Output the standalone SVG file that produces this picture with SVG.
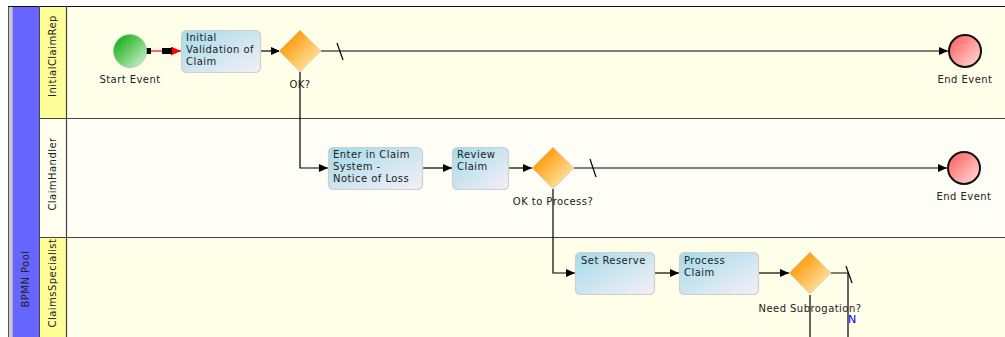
<svg xmlns="http://www.w3.org/2000/svg" width="1005" height="337" viewBox="0 0 1005 337">
<defs>
<linearGradient id="gTask" x1="0" y1="0" x2="1" y2="1"><stop offset="0" stop-color="#a3dbe9"/><stop offset="1" stop-color="#f5eff7"/></linearGradient>
<linearGradient id="gGate" x1="0" y1="0" x2="1" y2="1"><stop offset="0.2" stop-color="#ff9a08"/><stop offset="1" stop-color="#fff6cc"/></linearGradient>
<linearGradient id="gStart" x1="0" y1="0" x2="1" y2="1"><stop offset="0.2" stop-color="#2cb52c"/><stop offset="1" stop-color="#d8f6d8"/></linearGradient>
<linearGradient id="gEnd" x1="0" y1="0" x2="1" y2="1"><stop offset="0.15" stop-color="#ff6a6a"/><stop offset="1" stop-color="#ffe2e2"/></linearGradient>
<marker id="arr" markerWidth="9" markerHeight="8" refX="9" refY="4" orient="auto" markerUnits="userSpaceOnUse"><path d="M0,0 L9,4 L0,8 z" fill="#000"/></marker>
<marker id="arrRed" markerWidth="10" markerHeight="9" refX="10" refY="4.5" orient="auto" markerUnits="userSpaceOnUse"><path d="M0,0 L10,4.5 L0,9 z" fill="#ff0000"/></marker>
</defs>
<style>
text{font-family:"DejaVu Sans","Liberation Sans",sans-serif;font-size:10px;fill:#222;letter-spacing:0.45px}
.lbl{text-anchor:middle}
.task{fill:url(#gTask);stroke:#cfcfcf;stroke-width:1.2}
.gate{fill:url(#gGate);stroke:#e0d8c0;stroke-width:1}
.conn{fill:none;stroke:#000;stroke-width:1.2}
.arrow{marker-end:url(#arr)}
.div{stroke:#444;stroke-width:1.2}
</style>
<rect x="0" y="0" width="1005" height="337" fill="#ffffff"/>
<g id="pool">
<rect x="9" y="6" width="996" height="331" fill="#fefee9"/>
<rect x="66" y="118" width="939" height="119" fill="#fefef6"/>
<rect x="9" y="6" width="3.5" height="331" fill="#c8c8c8"/>
<rect x="12.5" y="6" width="26.5" height="331" fill="#6666ff"/>
<line x1="8.5" y1="6" x2="8.5" y2="337" stroke="#555" stroke-width="1"/>
<line x1="8" y1="6.5" x2="1005" y2="6.5" stroke="#111" stroke-width="1.2"/>
<line x1="39.5" y1="6" x2="39.5" y2="337" stroke="#444" stroke-width="1"/>
<text transform="translate(25,279) rotate(-90)" class="lbl" dominant-baseline="central">BPMN Pool</text>
</g>
<g id="lane-initialclaimrep">
<rect x="40" y="7" width="26" height="111" fill="#ffff99"/>
<text transform="translate(52,56) rotate(-90)" class="lbl" dominant-baseline="central">InitialClaimRep</text>
</g>
<g id="lane-claimhandler">
<rect x="40" y="118" width="26" height="119" fill="#fffff0"/>
<text transform="translate(52,174) rotate(-90)" class="lbl" dominant-baseline="central">ClaimHandler</text>
</g>
<g id="lane-claimsspecialist">
<rect x="40" y="237" width="26" height="100" fill="#ffff99"/>
<text transform="translate(52,283) rotate(-90)" class="lbl" dominant-baseline="central">ClaimsSpecialist</text>
</g>
<g id="lane-lines">
<line x1="66.5" y1="6" x2="66.5" y2="337" class="div"/>
<line x1="40" y1="118.5" x2="1005" y2="118.5" class="div"/>
<line x1="40" y1="237.5" x2="1005" y2="237.5" class="div"/>
</g>
<g id="connectors">
<line x1="150" y1="51" x2="181" y2="51" stroke="#ff0000" stroke-width="1.2" marker-end="url(#arrRed)"/>
<rect x="146" y="48" width="5" height="6" fill="#000"/>
<rect x="162" y="48" width="10" height="6" fill="#000"/>
<line x1="261" y1="51" x2="280" y2="51" class="conn arrow"/>
<line x1="321" y1="51" x2="948" y2="51" class="conn arrow"/>
<line x1="337" y1="43" x2="343" y2="60" class="conn"/>
<polyline points="300,72 300,168 328,168" class="conn arrow"/>
<line x1="423" y1="168" x2="452" y2="168" class="conn arrow"/>
<line x1="509" y1="168" x2="532" y2="168" class="conn arrow"/>
<line x1="574" y1="168" x2="947" y2="168" class="conn arrow"/>
<line x1="590" y1="159" x2="596" y2="177" class="conn"/>
<polyline points="553,189 553,273 575,273" class="conn arrow"/>
<line x1="655" y1="273" x2="679" y2="273" class="conn arrow"/>
<line x1="759" y1="273" x2="789" y2="273" class="conn arrow"/>
<polyline points="831,273 848,273 848,337" class="conn"/>
<line x1="846" y1="266" x2="852" y2="283" class="conn"/>
<line x1="810" y1="295" x2="810" y2="337" class="conn"/>
<text x="848" y="323" style="fill:#0000ff;font-size:11px;letter-spacing:0">N</text>
</g>
<g id="start-event">
<circle cx="130" cy="51" r="16.5" fill="url(#gStart)" stroke="#9ad09a" stroke-width="0.8"/>
<text x="130" y="83" class="lbl">Start Event</text>
</g>
<g id="task-initial-validation">
<rect x="181.5" y="30.5" width="79" height="42" rx="5" class="task"/>
<text x="186" y="41">Initial</text>
<text x="186" y="53">Validation of</text>
<text x="186" y="64.5">Claim</text>
</g>
<g id="gateway-ok">
<polygon points="300,30 321,51 300,72 279,51" class="gate"/>
<text x="300" y="88" class="lbl">OK?</text>
</g>
<g id="end-event-1">
<circle cx="965" cy="51" r="16" fill="url(#gEnd)" stroke="#111" stroke-width="2"/>
<text x="965" y="83" class="lbl">End Event</text>
</g>
<g id="task-enter-claim">
<rect x="328.5" y="147.5" width="94" height="42" rx="5" class="task"/>
<text x="333" y="158">Enter in Claim</text>
<text x="333" y="170">System -</text>
<text x="333" y="182">Notice of Loss</text>
</g>
<g id="task-review-claim">
<rect x="452.5" y="147.5" width="56" height="42" rx="5" class="task"/>
<text x="457" y="158">Review</text>
<text x="457" y="170">Claim</text>
</g>
<g id="gateway-ok-to-process">
<polygon points="553,147 574,168 553,189 532,168" class="gate"/>
<text x="553" y="205" class="lbl">OK to Process?</text>
</g>
<g id="end-event-2">
<circle cx="964" cy="168" r="16" fill="url(#gEnd)" stroke="#111" stroke-width="2"/>
<text x="964" y="200" class="lbl">End Event</text>
</g>
<g id="task-set-reserve">
<rect x="575.5" y="252.5" width="79" height="42" rx="5" class="task"/>
<text x="581" y="264">Set Reserve</text>
</g>
<g id="task-process-claim">
<rect x="679.5" y="252.5" width="79" height="42" rx="5" class="task"/>
<text x="684" y="264">Process</text>
<text x="684" y="276">Claim</text>
</g>
<g id="gateway-need-subrogation">
<polygon points="810,252 831,273 810,294 789,273" class="gate"/>
<text x="810" y="312" class="lbl">Need Subrogation?</text>
</g>
</svg>
